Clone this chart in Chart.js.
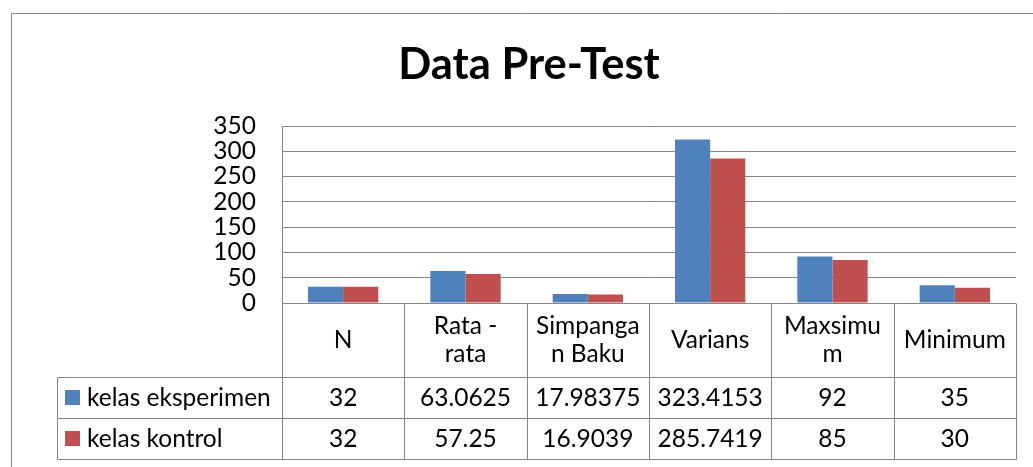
<!DOCTYPE html>
<html>
<head>
<meta charset="utf-8">
<script src="https://cdn.jsdelivr.net/npm/chart.js@4.4.1/dist/chart.umd.min.js"></script>
<style>
html,body{margin:0;padding:0;background:#fff;}
#wrap{position:relative;width:1033px;height:467px;}
</style>
</head>
<body>
<div id="wrap"><canvas id="c" width="1033" height="467"></canvas></div>
<script>
const chartTitle = "Data Pre-Test";
const categories = [["N"], ["Rata -", "rata"], ["Simpanga", "n Baku"], ["Varians"], ["Maxsimu", "m"], ["Minimum"]];
const seriesNames = ["kelas eksperimen", "kelas kontrol"];
const eksperimen = [32, 63.0625, 17.98375, 323.4153, 92, 35];
const kontrol = [32, 57.25, 16.9039, 285.7419, 85, 30];
const eksperimenText = ["32", "63.0625", "17.98375", "323.4153", "92", "35"];
const kontrolText = ["32", "57.25", "16.9039", "285.7419", "85", "30"];
const yTicks = [0, 50, 100, 150, 200, 250, 300, 350];

const colors = ["#4F81BD", "#C0504D"];
const lineColor = "#868686";
const FONT = "Lato, 'Liberation Sans', sans-serif";
const FS = 24.5;

const tablePlugin = {
  id: "tablePlugin",
  afterDraw(chart) {
    const ctx = chart.ctx;
    const x = chart.scales.x, y = chart.scales.y;
    const ca = chart.chartArea;
    const n = categories.length;
    const cw = (ca.right - ca.left) / n;
    const top = Math.round(y.getPixelForValue(0)) + 0.5;
    const hdrBot = 377.5, r1Bot = 418.5, r2Bot = 459.5, legLeft = 57.5;
    ctx.save();
    // outer frame
    ctx.strokeStyle = lineColor;
    ctx.lineWidth = 1;
    ctx.beginPath();
    ctx.moveTo(11.5, 480); ctx.lineTo(11.5, 13.5); ctx.lineTo(1040, 13.5);
    ctx.stroke();
    // title
    ctx.fillStyle = "#000";
    ctx.font = "bold 43.5px " + FONT;
    ctx.textAlign = "center"; ctx.textBaseline = "middle";
    ctx.fillText(chartTitle, 529, 65);
    // table lines
    ctx.beginPath();
    const R = Math.round(ca.right) + 0.5;
    for (let i = 0; i <= n; i++) {
      const xx = Math.round(ca.left + cw * i) + 0.5;
      ctx.moveTo(xx, top); ctx.lineTo(xx, r2Bot);
    }
    ctx.moveTo(legLeft, hdrBot); ctx.lineTo(R, hdrBot);
    ctx.moveTo(legLeft, r1Bot); ctx.lineTo(R, r1Bot);
    ctx.moveTo(legLeft, r2Bot); ctx.lineTo(R, r2Bot);
    ctx.moveTo(legLeft, hdrBot); ctx.lineTo(legLeft, r2Bot);
    ctx.stroke();
    // header text
    ctx.font = FS + "px " + FONT;
    ctx.fillStyle = "#000";
    for (let i = 0; i < n; i++) {
      const cx = x.getPixelForValue(i);
      const lines = categories[i];
      const mid = (top + hdrBot) / 2;
      const lh = 28;
      lines.forEach((t, k) => {
        ctx.fillText(t, cx, mid + (k - (lines.length - 1) / 2) * lh);
      });
      ctx.fillText(eksperimenText[i], cx, (hdrBot + r1Bot) / 2);
      ctx.fillText(kontrolText[i], cx, (r1Bot + r2Bot) / 2);
    }
    // legend keys
    const rows = [(hdrBot + r1Bot) / 2, (r1Bot + r2Bot) / 2];
    ctx.textAlign = "left";
    rows.forEach((ry, k) => {
      ctx.fillStyle = colors[k];
      ctx.fillRect(65, Math.round(ry - 8), 15, 15);
      ctx.fillStyle = "#000";
      ctx.fillText(seriesNames[k], 87, ry);
    });
    ctx.restore();
  }
};

new Chart(document.getElementById("c"), {
  type: "bar",
  data: {
    labels: categories.map(c => c.join(" ")),
    datasets: [
      { label: seriesNames[0], data: eksperimen, backgroundColor: colors[0], borderWidth: 0 },
      { label: seriesNames[1], data: kontrol, backgroundColor: colors[1], borderWidth: 0 }
    ]
  },
  options: {
    responsive: false,
    animation: false,
    events: [],
    layout: { padding: { left: 0, right: 17, top: 126, bottom: 164 } },
    plugins: { legend: { display: false }, title: { display: false }, tooltip: { enabled: false } },
    datasets: { bar: { categoryPercentage: 0.575, barPercentage: 1.0 } },
    scales: {
      x: { display: false },
      y: {
        min: 0, max: 350,
        afterFit(s) { s.width = 282; },
        afterBuildTicks(s) { s.ticks = yTicks.map(v => ({ value: v })); },
        ticks: { color: "#000", font: { family: FONT, size: FS }, padding: 26, autoSkip: false },
        grid: { color: lineColor, drawTicks: false, lineWidth: 1 },
        border: { color: lineColor, width: 1 }
      }
    }
  },
  plugins: [tablePlugin]
});
</script>
</body>
</html>
